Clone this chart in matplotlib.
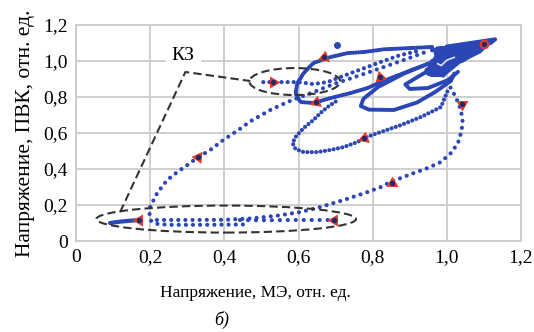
import matplotlib
matplotlib.use('Agg')
import matplotlib.pyplot as plt
from matplotlib.patches import Ellipse

# trajectory pieces (relative units)
descent_x = [0.99, 1.003, 1.024, 1.038, 1.043, 1.038, 1.03, 1.011, 0.984, 0.949, 0.911, 0.876,
             0.849, 0.822, 0.786, 0.722, 0.659, 0.605, 0.54, 0.47, 0.40, 0.30, 0.20]
descent_y = [0.92, 0.878, 0.80, 0.728, 0.656, 0.60, 0.544, 0.489, 0.439, 0.406, 0.378, 0.35,
             0.33, 0.30, 0.272, 0.228, 0.189, 0.161, 0.14, 0.125, 0.118, 0.117, 0.117]

band_x = [0.70, 0.60, 0.50, 0.44]
band_y = [0.117, 0.117, 0.115, 0.117]

rise_x = [0.45, 0.35, 0.25, 0.22, 0.203, 0.198, 0.20, 0.219, 0.246, 0.273, 0.30, 0.33, 0.362,
          0.397, 0.438, 0.47, 0.524, 0.57, 0.605, 0.65, 0.695, 0.786, 0.876, 0.949]
rise_y = [0.092, 0.09, 0.09, 0.095, 0.11, 0.14, 0.19, 0.267, 0.339, 0.383, 0.422, 0.467, 0.506,
          0.561, 0.617, 0.665, 0.728, 0.772, 0.80, 0.835, 0.872, 0.935, 1.0, 1.055]

short_x = [0.17, 0.12, 0.092]
short_y = [0.117, 0.108, 0.10]

upper_x = [0.505, 0.60, 0.64, 0.678, 0.713, 0.749, 0.786, 0.814, 0.87, 0.93]
upper_y = [0.883, 0.883, 0.872, 0.883, 0.911, 0.939, 0.967, 0.989, 1.03, 1.06]

loopA_x = [0.96, 0.90, 0.83, 0.776, 0.732, 0.686, 0.64, 0.614, 0.597, 0.592, 0.605, 0.64,
           0.686, 0.74, 0.786, 0.83, 0.92, 0.97]
loopA_y = [1.078, 1.072, 1.065, 1.05, 1.044, 1.022, 0.989, 0.933, 0.878, 0.822, 0.772, 0.767,
           0.794, 0.822, 0.85, 0.89, 0.962, 1.0]

loopB_x = [0.70, 0.678, 0.659, 0.64, 0.614, 0.592, 0.584, 0.592, 0.614, 0.651, 0.686, 0.722,
           0.759, 0.776, 0.814, 0.876, 0.93, 0.984, 1.003]
loopB_y = [0.775, 0.744, 0.711, 0.672, 0.628, 0.578, 0.544, 0.511, 0.494, 0.494, 0.506, 0.522,
           0.55, 0.572, 0.60, 0.644, 0.689, 0.744, 0.839]

loopC_x = [0.99, 0.949, 0.884, 0.814, 0.775, 0.768, 0.79, 0.857, 0.92, 0.97, 1.011, 1.02]
loopC_y = [1.0, 0.985, 0.93, 0.855, 0.79, 0.75, 0.73, 0.728, 0.77, 0.83, 0.89, 0.93]

loopD_x = [1.0, 0.949, 0.92, 0.888, 0.90, 0.949, 1.003, 1.03]
loopD_y = [0.96, 0.945, 0.91, 0.87, 0.845, 0.85, 0.894, 0.94]

# dense wedge of settling oscillations
wedge_x = [0.938, 0.976, 1.038, 1.127, 1.092, 1.038, 0.992, 0.957]
wedge_y = [0.933, 1.061, 1.100, 1.117, 1.044, 0.989, 0.911, 0.911]
cluster_x = [0.95, 1.12, 0.97, 1.10, 0.99, 1.125, 0.96, 1.08, 0.945, 1.05, 1.0, 1.13, 1.04, 0.97,
             1.09, 0.98, 1.11, 0.955, 1.06, 0.975, 1.10, 1.02, 1.12, 0.96]
cluster_y = [0.93, 1.11, 1.04, 1.10, 0.96, 1.115, 1.06, 1.05, 0.95, 1.02, 1.08, 1.12, 1.0, 0.99,
             1.07, 1.02, 1.10, 0.97, 1.045, 1.07, 1.085, 1.05, 1.105, 1.0]
gap_x = [0.975, 0.985, 1.0, 1.02]
gap_y = [0.985, 0.975, 1.005, 1.02]

lone_x, lone_y = 0.705, 1.089
steady_x, steady_y = 1.10, 1.094

# arrow markers: position and pointing direction (deg)
arrow_x = [0.17, 0.695, 0.33, 0.53, 0.67, 0.646, 0.82, 0.776, 1.04, 0.851]
arrow_y = [0.117, 0.117, 0.467, 0.883, 1.025, 0.772, 0.91, 0.572, 0.76, 0.322]
arrow_dir = [180, 180, 55, 0, -40, 200, 225, 200, 270, 210]

# short-circuit marks
ell_low = (0.405, 0.122, 0.70, 0.15)
ell_up = (0.59, 0.886, 0.245, 0.15)
leader_x = [0.119, 0.295, 0.47]
leader_y = [0.161, 0.939, 0.889]

ticks = [0, 0.2, 0.4, 0.6, 0.8, 1.0, 1.2]
tick_labels = ['0', '0,2', '0,4', '0,6', '0,8', '1,0', '1,2']

blue = '#2b47b5'
red = '#e8382c'
grey = '#cccccc'
plt.rcParams['font.family'] = ['Liberation Serif', 'DejaVu Serif']

fig = plt.figure(figsize=(5.34, 3.32), dpi=100)
ax = fig.add_axes([0.1423, 0.274, 0.8334, 0.6506])


def dots(x, y, gap, lw=3.0):
    ax.plot(x, y, color=blue, lw=lw, linestyle=(0, (0.01, gap)),
            dash_capstyle='round', zorder=3)


def solid(x, y, lw=2.8):
    ax.plot(x, y, color=blue, lw=lw, solid_capstyle='round',
            solid_joinstyle='round', zorder=3)


dots(descent_x, descent_y, 1.7)
dots(band_x, band_y, 1.9)
dots(rise_x, rise_y, 1.7)
dots(upper_x, upper_y, 1.45)
dots(loopA_x, loopA_y, 0.6)
dots(loopB_x, loopB_y, 1.05)
solid(short_x, short_y, 3.0)
solid(loopC_x, loopC_y)
solid(loopD_x, loopD_y)
ax.fill(wedge_x, wedge_y, color=blue, lw=0, zorder=3)
solid(cluster_x, cluster_y, 3.0)
ax.plot(gap_x, gap_y, color='#dfe3f5', lw=1.2, zorder=3.5)
ax.plot(lone_x, lone_y, 'o', color=blue, ms=4, zorder=3)

for xa, ya, d in zip(arrow_x, arrow_y, arrow_dir):
    ax.plot(xa, ya, marker=(3, 0, d - 90), color=red, ms=10, mec='none', zorder=4)
    ax.plot(xa, ya, 'o', color='#1d2a6b', ms=2.8, zorder=5)
ax.plot(steady_x, steady_y, 'o', color=red, ms=7, mec='none', zorder=4)
ax.plot(steady_x, steady_y, 'o', color='#1d2a6b', ms=2.8, zorder=5)

for cx, cy, w, h in (ell_low, ell_up):
    ax.add_patch(Ellipse((cx, cy), w, h, fill=False, ec='#333333', lw=1.5,
                         ls=(0, (4, 2)), zorder=4))
ax.plot(leader_x, leader_y, color='#333333', lw=1.5, ls=(0, (4, 2)), zorder=4)
ax.text(0.289, 1.033, 'КЗ', fontsize=14, ha='center', va='center',
        backgroundcolor='white', zorder=2)

ax.set_xlim(0, 1.2)
ax.set_ylim(0, 1.2)
ax.set_xticks(ticks)
ax.set_xticklabels(tick_labels)
ax.set_yticks(ticks)
ax.set_yticklabels(tick_labels)
ax.tick_params(length=0, labelsize=14, pad=6)
ax.grid(True, color=grey, lw=1.3)
ax.set_axisbelow(True)
for s in ax.spines.values():
    s.set_color(grey)
    s.set_linewidth(1.3)

ax.set_xlabel('Напряжение, МЭ, отн. ед.', fontsize=12.5)
ax.xaxis.set_label_coords(0.402, -0.205)
ax.set_ylabel('Напряжение, ПВК, отн. ед.', fontsize=15.5, labelpad=6)
fig.text(0.416, 0.035, 'б)', fontsize=13, style='italic', ha='center', va='center')

fig.savefig('out.png', dpi=100)
